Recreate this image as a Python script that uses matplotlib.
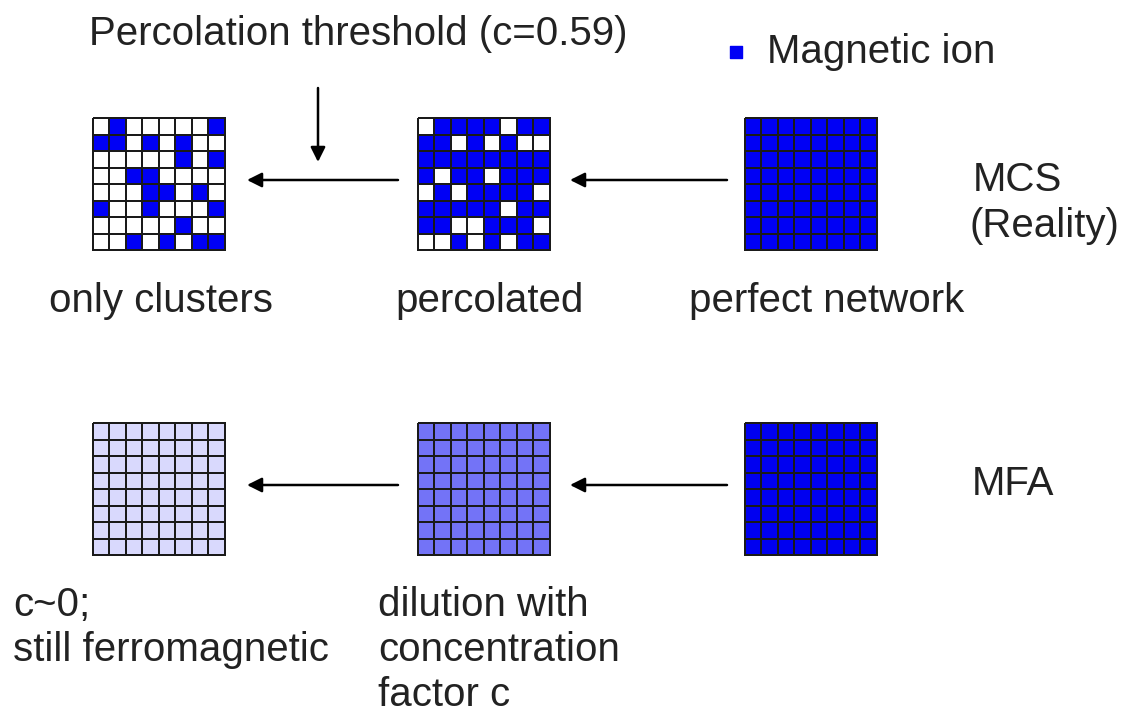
import numpy as np
import matplotlib.pyplot as plt
from matplotlib.colors import ListedColormap, LinearSegmentedColormap

# lattice occupation, 1 = magnetic ion (rows top to bottom)
only_clusters = [
    [0, 1, 0, 0, 0, 0, 0, 1],
    [1, 1, 0, 1, 0, 1, 0, 0],
    [0, 0, 0, 0, 0, 1, 0, 1],
    [0, 0, 1, 1, 0, 0, 0, 0],
    [0, 0, 0, 1, 1, 0, 1, 0],
    [1, 0, 0, 1, 0, 0, 0, 1],
    [0, 0, 0, 0, 0, 1, 0, 0],
    [0, 0, 1, 0, 1, 0, 1, 1],
]
percolated = [
    [0, 1, 1, 1, 1, 0, 1, 1],
    [1, 1, 0, 1, 0, 1, 0, 0],
    [1, 1, 1, 1, 1, 1, 1, 1],
    [1, 0, 1, 1, 0, 1, 1, 1],
    [0, 1, 0, 1, 1, 1, 1, 0],
    [1, 1, 1, 1, 1, 0, 1, 1],
    [1, 1, 0, 0, 1, 1, 1, 0],
    [0, 0, 1, 0, 1, 0, 1, 1],
]
perfect = [[1] * 8 for _ in range(8)]

# mean-field: every site carries the same fraction c
mfa_conc = [0.15, 0.55, 1.0]

top_labels = ["only clusters", "percolated", "perfect network"]
bottom_labels = ["c~0;\nstill ferromagnetic", "dilution with\nconcentration\nfactor c"]

plt.rcParams["font.family"] = ["Liberation Sans", "DejaVu Sans"]
fig = plt.figure(figsize=(11.22, 7.15), dpi=100)
ax = fig.add_axes([0, 0, 1, 1])
ax.set_xlim(0, 1122)
ax.set_ylim(715, 0)
ax.axis("off")

blue = ListedColormap(["white", "#0000f5"])
fade = LinearSegmentedColormap.from_list("fade", ["white", "#0000f0"])


def lattice(x0, y0, vals, cmap, size=132):
    vals = np.array(vals, dtype=float)
    n = vals.shape[0]
    xs = np.linspace(x0, x0 + size, n + 1)
    ys = np.linspace(y0, y0 + size, n + 1)
    ax.pcolormesh(xs, ys, vals, cmap=cmap, vmin=0, vmax=1,
                  edgecolors="#1a1a1a", linewidth=1.3)


def arrow(x1, y1, x2, y2):
    ax.annotate("", xy=(x2, y2), xytext=(x1, y1),
                arrowprops=dict(arrowstyle="-|>", color="black", lw=1.8,
                                mutation_scale=22, shrinkA=0, shrinkB=0))


cols = [93, 418, 745]
top_y, bot_y = 118, 423

for x0, grid in zip(cols, [only_clusters, percolated, perfect]):
    lattice(x0, top_y, grid, blue)

for x0, c in zip(cols, mfa_conc):
    lattice(x0, bot_y, [[c] * 8 for _ in range(8)], fade)

for y in [180, 485]:
    arrow(398, y, 247, y)
    arrow(727, y, 570, y)
arrow(318, 88, 318, 162)

fs = 29
tc = "#222222"
ax.text(358, 34, "Percolation threshold (c=0.59)", fontsize=fs, ha="center", va="center", color=tc)
ax.scatter([736], [52], marker="s", s=80, color="#0000f5")
ax.text(767, 52, "Magnetic ion", fontsize=fs, ha="left", va="center", color=tc)

for xc, lab in zip([161, 490, 827], top_labels):
    ax.text(xc, 301, lab, fontsize=fs, ha="center", va="center", color=tc)

for x0, lab in zip([13, 378], bottom_labels):
    for k, line in enumerate(lab.split("\n")):
        ax.text(x0, 605 + 45 * k, line, fontsize=fs, ha="left", va="center", color=tc)

ax.text(973, 180, "MCS", fontsize=fs, ha="left", va="center", color=tc)
ax.text(970, 226, "(Reality)", fontsize=fs, ha="left", va="center", color=tc)
ax.text(972, 484, "MFA", fontsize=fs, ha="left", va="center", color=tc)

fig.savefig("out.png", dpi=100)
